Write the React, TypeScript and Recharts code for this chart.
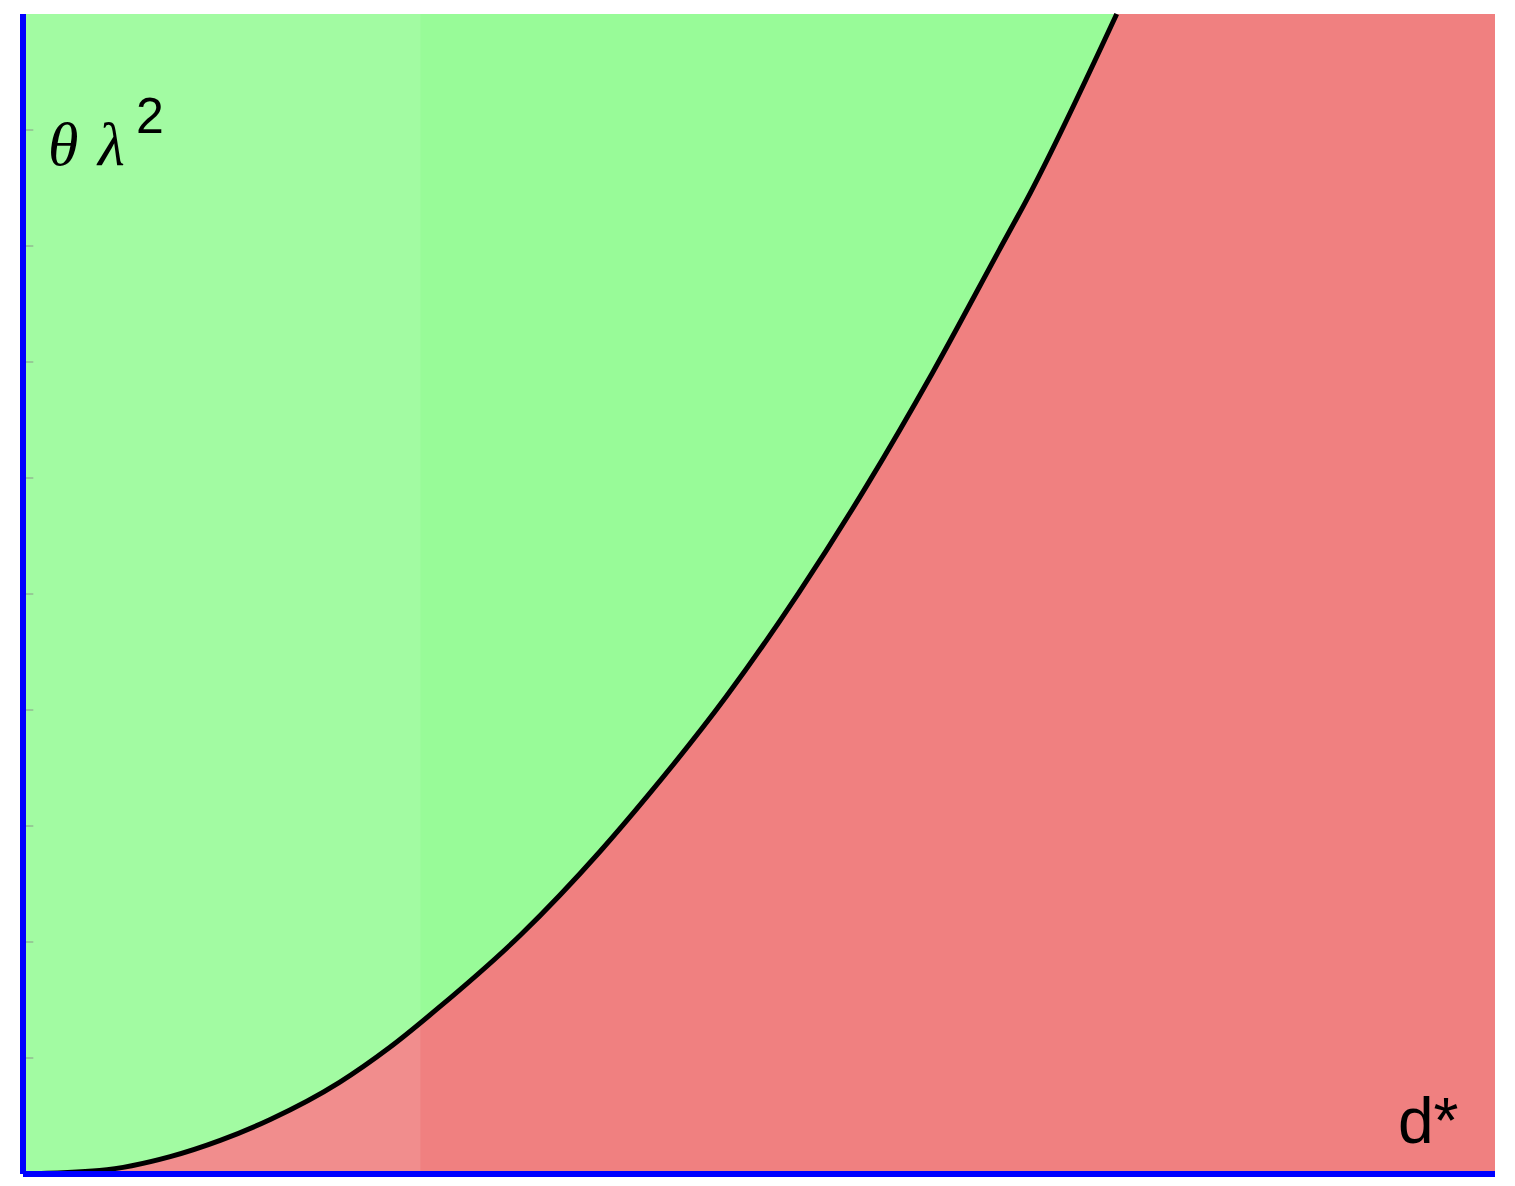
import React from 'react';
import { ComposedChart, Area, Line, XAxis, YAxis, ReferenceArea, ReferenceLine } from 'recharts';

// d* positions (normalised 0..1) and the boundary value theta*lambda^2
const dStar = [0, 0.052, 0.1, 0.134, 0.168, 0.215, 0.249, 0.283, 0.338, 0.392, 0.425, 0.478, 0.527, 0.573, 0.618, 0.663, 0.684, 0.743, 1];
const boundary = [0, 0.003, 0.015, 0.029, 0.047, 0.079, 0.109, 0.144, 0.206, 0.278, 0.327, 0.412, 0.501, 0.593, 0.691, 0.796, 0.845, 1.0, null];
const yTicks = [0.1, 0.2, 0.3, 0.4, 0.5, 0.6, 0.7, 0.8, 0.9];

const data = dStar.map((d, i) => ({
  d,
  full: 1,
  stable: boundary[i] === null ? null : [boundary[i], 1],
  curve: boundary[i],
}));

const W = 1500;
const H = 1178;

export default function App() {
  return (
    <div style={{ position: 'relative', width: W, height: H }}>
      <ComposedChart width={W} height={H} data={data} margin={{ top: 6, right: 13, bottom: 12, left: 15 }}>
        <XAxis dataKey="d" type="number" domain={[0, 1]} hide />
        <YAxis type="number" domain={[0, 1]} hide />
        {/* red region under the boundary, green region above it */}
        <Area dataKey="full" type="linear" stroke="none" fill="#f08080" fillOpacity={1} isAnimationActive={false} />
        <Area dataKey="stable" type="monotone" stroke="none" fill="#98fb98" fillOpacity={1} isAnimationActive={false} />
        <ReferenceArea x1={0} x2={0.27} y1={0} y2={1} fill="#ffffff" fillOpacity={0.1} stroke="none" />
        {yTicks.map((t) => (
          <ReferenceLine
            key={t}
            segment={[{ x: 0, y: t }, { x: 0.007, y: t }]}
            stroke="#8a9a8a"
            strokeWidth={1}
          />
        ))}
        <Line dataKey="curve" type="monotone" stroke="#000000" strokeWidth={5} dot={false} isAnimationActive={false} />
        <ReferenceLine x={0} stroke="#0000ff" strokeWidth={6} />
        <ReferenceLine y={0} stroke="#0000ff" strokeWidth={6} />
      </ComposedChart>
      <svg width={W} height={H} style={{ position: 'absolute', left: 0, top: 0, pointerEvents: 'none' }}>
        <text x={40} y={157} fontFamily="Liberation Serif" fontStyle="italic" fontSize={62} fill="#000">
          θ
        </text>
        <text x={90} y={157} fontFamily="Liberation Serif" fontStyle="italic" fontSize={62} fill="#000">
          λ
        </text>
        <text x={128} y={125} fontFamily="Liberation Sans" fontSize={50} fill="#000">
          2
        </text>
        <text x={1390} y={1135} fontFamily="Liberation Sans" fontSize={64} fill="#000">
          d*
        </text>
      </svg>
    </div>
  );
}
